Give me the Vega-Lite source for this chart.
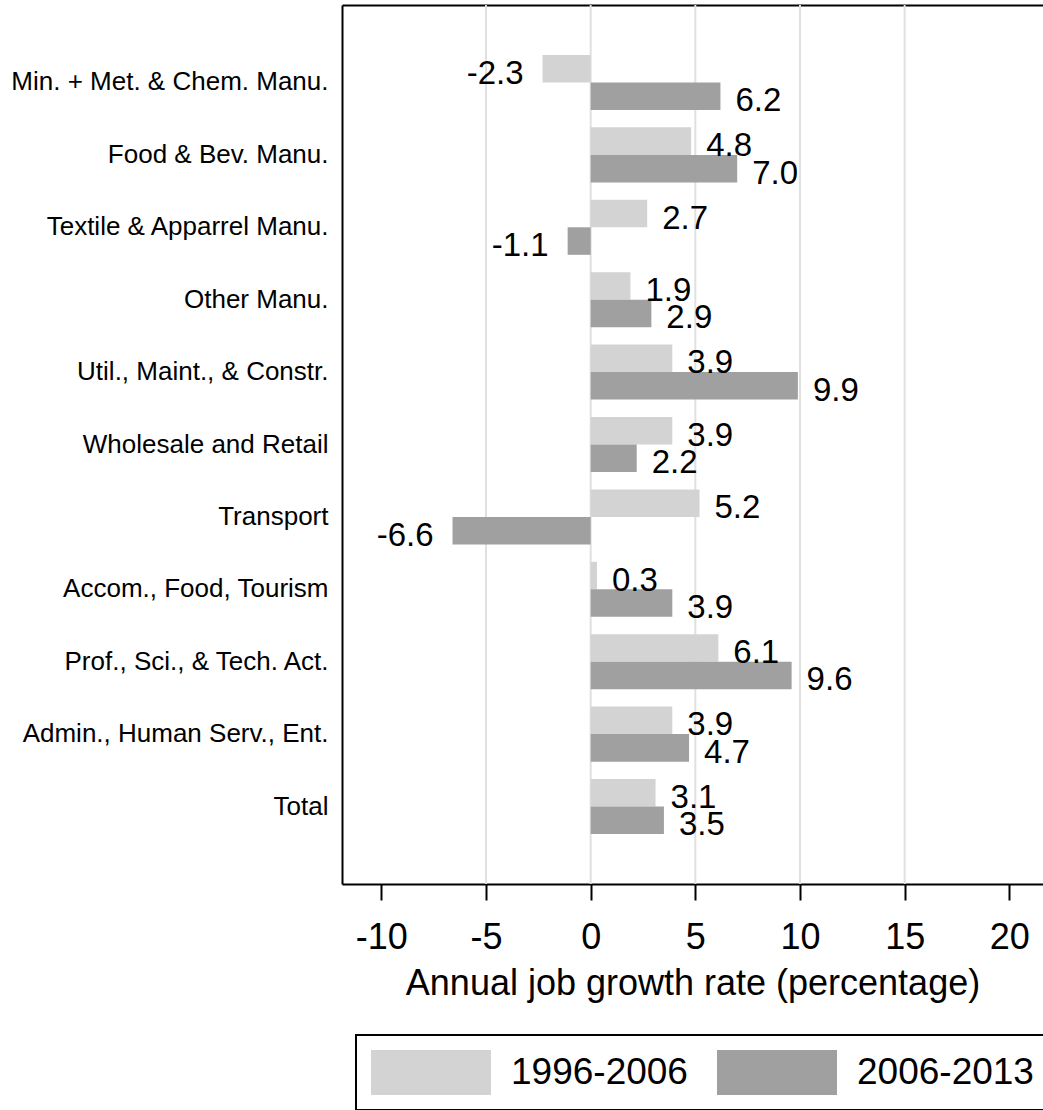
{
  "$schema": "https://vega.github.io/schema/vega-lite/v6.json",
  "width": 701,
  "height": 879,
  "autosize": {"type": "none"},
  "padding": {"left": 342, "top": 5, "right": 0, "bottom": 226},
  "background": "white",
  "config": {
    "font": "Liberation Sans",
    "view": {"stroke": null},
    "legend": {"strokeWidth": 2},
    "locale": {"number": {"decimal": ".", "thousands": ",", "grouping": [3], "currency": ["$", ""], "minus": "-"}}
  },
  "data": {
    "values": [
      {"sector": "Min. + Met. & Chem. Manu.", "period": "1996-2006", "value": -2.3},
      {"sector": "Min. + Met. & Chem. Manu.", "period": "2006-2013", "value": 6.2},
      {"sector": "Food & Bev. Manu.", "period": "1996-2006", "value": 4.8},
      {"sector": "Food & Bev. Manu.", "period": "2006-2013", "value": 7.0},
      {"sector": "Textile & Apparrel Manu.", "period": "1996-2006", "value": 2.7},
      {"sector": "Textile & Apparrel Manu.", "period": "2006-2013", "value": -1.1},
      {"sector": "Other Manu.", "period": "1996-2006", "value": 1.9},
      {"sector": "Other Manu.", "period": "2006-2013", "value": 2.9},
      {"sector": "Util., Maint., & Constr.", "period": "1996-2006", "value": 3.9},
      {"sector": "Util., Maint., & Constr.", "period": "2006-2013", "value": 9.9},
      {"sector": "Wholesale and Retail", "period": "1996-2006", "value": 3.9},
      {"sector": "Wholesale and Retail", "period": "2006-2013", "value": 2.2},
      {"sector": "Transport", "period": "1996-2006", "value": 5.2},
      {"sector": "Transport", "period": "2006-2013", "value": -6.6},
      {"sector": "Accom., Food, Tourism", "period": "1996-2006", "value": 0.3},
      {"sector": "Accom., Food, Tourism", "period": "2006-2013", "value": 3.9},
      {"sector": "Prof., Sci., & Tech. Act.", "period": "1996-2006", "value": 6.1},
      {"sector": "Prof., Sci., & Tech. Act.", "period": "2006-2013", "value": 9.6},
      {"sector": "Admin., Human Serv., Ent.", "period": "1996-2006", "value": 3.9},
      {"sector": "Admin., Human Serv., Ent.", "period": "2006-2013", "value": 4.7},
      {"sector": "Total", "period": "1996-2006", "value": 3.1},
      {"sector": "Total", "period": "2006-2013", "value": 3.5}
    ]
  },
  "layer": [
    {
      "data": {"values": [{"g": -5}, {"g": 0}, {"g": 5}, {"g": 10}, {"g": 15}]},
      "mark": {"type": "rule", "color": "#e0e0e0", "strokeWidth": 2},
      "encoding": {
        "x": {
          "field": "g",
          "type": "quantitative",
          "scale": {"domain": [-11.88, 21.61], "nice": false, "zero": false},
          "axis": {"orient": "top", "labels": false, "ticks": false, "grid": false, "domain": true, "domainColor": "black", "domainWidth": 2, "title": null}
        }
      }
    },
    {
      "encoding": {
        "y": {
          "field": "sector",
          "type": "nominal",
          "sort": null,
          "scale": {"paddingInner": 0.24, "paddingOuter": 0.69},
          "axis": {"title": null, "ticks": false, "domainColor": "black", "domainWidth": 2, "labelFontSize": 26, "labelColor": "black", "labelPadding": 14, "labelLimit": 400}
        },
        "yOffset": {"field": "period", "type": "nominal", "sort": ["1996-2006", "2006-2013"], "scale": {"paddingInner": 0, "paddingOuter": 0}},
        "x": {
          "field": "value",
          "type": "quantitative",
          "scale": {"domain": [-11.88, 21.61], "nice": false, "zero": false},
          "axis": {
            "orient": "bottom",
            "values": [-10, -5, 0, 5, 10, 15, 20],
            "grid": false,
            "domainColor": "black",
            "domainWidth": 2,
            "tickColor": "black",
            "tickWidth": 2,
            "tickSize": 16,
            "labelFontSize": 36,
            "labelColor": "black",
            "labelPadding": 20,
            "title": "Annual job growth rate (percentage)",
            "titleFontSize": 36,
            "titleFontWeight": "normal",
            "titleColor": "black",
            "titlePadding": 11
          }
        }
      },
      "layer": [
        {
          "mark": {"type": "bar"},
          "encoding": {
            "color": {
              "field": "period",
              "type": "nominal",
              "scale": {"domain": ["1996-2006", "2006-2013"], "range": ["#d3d3d3", "#a0a0a0"]},
              "legend": {
                "orient": "none",
                "legendX": 14,
                "legendY": 1030,
                "direction": "horizontal",
                "title": null,
                "strokeColor": "black",
                "padding": 15,
                "symbolType": "M-2.667,-1L2.667,-1L2.667,1L-2.667,1Z",
                "symbolSize": 2025,
                "symbolOffset": 37.5,
                "symbolStrokeWidth": 0,
                "symbolOpacity": 1,
                "labelFontSize": 37,
                "labelColor": "black",
                "labelOffset": 57.5,
                "labelLimit": 300,
                "columnPadding": 28
              }
            }
          }
        },
        {
          "transform": [{"filter": "datum.value >= 0"}],
          "mark": {"type": "text", "align": "left", "baseline": "middle", "dx": 15, "dy": 5, "fontSize": 33, "color": "black"},
          "encoding": {
            "text": {"field": "value", "type": "quantitative", "format": ".1f"}
          }
        },
        {
          "transform": [{"filter": "datum.value < 0"}],
          "mark": {"type": "text", "align": "right", "baseline": "middle", "dx": -19, "dy": 5, "fontSize": 33, "color": "black"},
          "encoding": {
            "text": {"field": "value", "type": "quantitative", "format": ".1f"}
          }
        }
      ]
    }
  ]
}
